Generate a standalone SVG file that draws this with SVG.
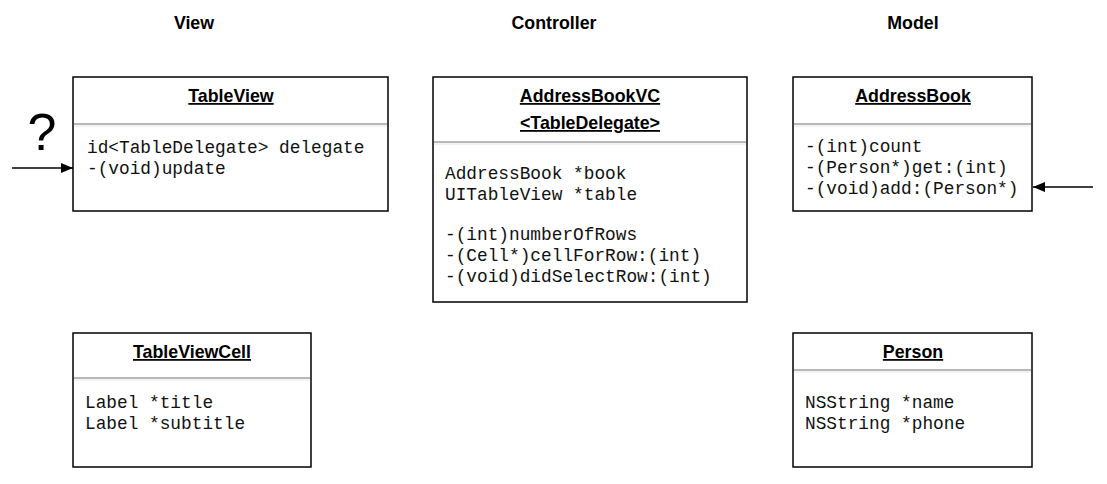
<svg xmlns="http://www.w3.org/2000/svg" width="1107" height="484" viewBox="0 0 1107 484">
<style>
.box{fill:#fff;stroke:#000;stroke-width:1.5}
.sep{stroke:#b8b8b8;stroke-width:2}
.sep2{stroke:#e6e6e6;stroke-width:1}
.title{font-family:"Liberation Sans",Arial,sans-serif;font-weight:bold;font-size:17.8px;text-anchor:middle;text-decoration:underline}
.hdr{font-family:"Liberation Sans",Arial,sans-serif;font-weight:bold;font-size:17.8px;text-anchor:middle}
.mono{font-family:"Liberation Mono","Courier New",monospace;font-size:17.8px;fill:#111}
.conn{stroke:#000;stroke-width:1.5;fill:none}
</style>
<defs>
<marker id="ah" markerWidth="12" markerHeight="10" refX="12" refY="5" orient="auto" markerUnits="userSpaceOnUse">
<path d="M0,0 L12,5 L0,10 Z" fill="#000"/>
</marker>
</defs>
<rect width="1107" height="484" fill="#fff"/>
<g id="headers">
<text class="hdr" x="194" y="29">View</text>
<text class="hdr" x="554" y="29">Controller</text>
<text class="hdr" x="913" y="29">Model</text>
</g>
<g id="TableView">
<rect class="box" x="73" y="77" width="315" height="134"/>
<line class="sep" x1="74" y1="124" x2="387" y2="124"/>
<line class="sep2" x1="74" y1="126" x2="387" y2="126"/>
<text class="title" x="231" y="102">TableView</text>
<text class="mono" x="87" y="153">id&lt;TableDelegate&gt; delegate</text>
<text class="mono" x="87" y="174">-(void)update</text>
</g>
<g id="AddressBookVC">
<rect class="box" x="433" y="77" width="314" height="225"/>
<line class="sep" x1="434" y1="142" x2="746" y2="142"/>
<line class="sep2" x1="434" y1="144" x2="746" y2="144"/>
<text class="title" x="590" y="102">AddressBookVC</text>
<text class="title" x="590" y="129">&lt;TableDelegate&gt;</text>
<text class="mono" x="445" y="179">AddressBook *book</text>
<text class="mono" x="445" y="200">UITableView *table</text>
<text class="mono" x="445" y="240">-(int)numberOfRows</text>
<text class="mono" x="445" y="261">-(Cell*)cellForRow:(int)</text>
<text class="mono" x="445" y="282">-(void)didSelectRow:(int)</text>
</g>
<g id="AddressBook">
<rect class="box" x="793" y="77" width="239" height="134"/>
<line class="sep" x1="794" y1="124" x2="1031" y2="124"/>
<line class="sep2" x1="794" y1="126" x2="1031" y2="126"/>
<text class="title" x="913" y="102">AddressBook</text>
<text class="mono" x="805" y="152">-(int)count</text>
<text class="mono" x="805" y="173">-(Person*)get:(int)</text>
<text class="mono" x="805" y="194">-(void)add:(Person*)</text>
</g>
<g id="TableViewCell">
<rect class="box" x="73" y="333" width="238" height="134"/>
<line class="sep" x1="74" y1="378" x2="310" y2="378"/>
<line class="sep2" x1="74" y1="380" x2="310" y2="380"/>
<text class="title" x="192" y="358">TableViewCell</text>
<text class="mono" x="85" y="408">Label *title</text>
<text class="mono" x="85" y="429">Label *subtitle</text>
</g>
<g id="Person">
<rect class="box" x="793" y="333" width="239" height="134"/>
<line class="sep" x1="794" y1="370" x2="1031" y2="370"/>
<line class="sep2" x1="794" y1="372" x2="1031" y2="372"/>
<text class="title" x="913" y="358">Person</text>
<text class="mono" x="805" y="408">NSString *name</text>
<text class="mono" x="805" y="429">NSString *phone</text>
</g>
<g id="question">
<text x="42" y="150" font-family="Liberation Sans,Arial,sans-serif" font-size="52" text-anchor="middle">?</text>
</g>
<g id="connectors">
<line class="conn" x1="12" y1="168" x2="73" y2="168" marker-end="url(#ah)"/>
<line class="conn" x1="1093" y1="187" x2="1033" y2="187" marker-end="url(#ah)"/>
</g>
</svg>
